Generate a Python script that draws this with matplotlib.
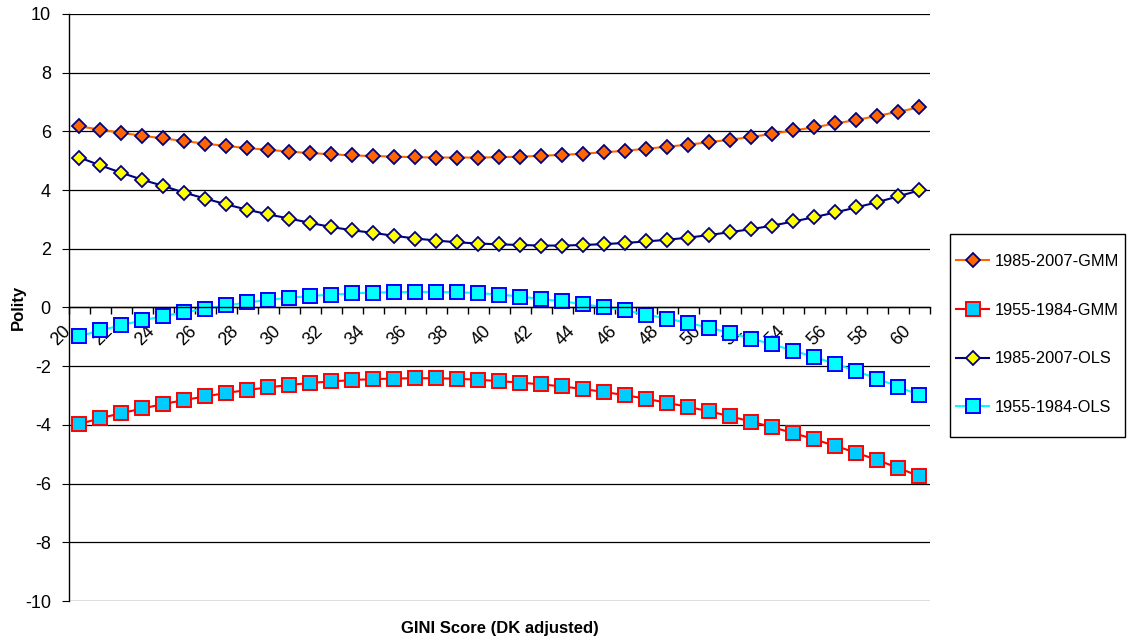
import numpy as np
import matplotlib
matplotlib.use("Agg")
import matplotlib.pyplot as plt
import matplotlib.transforms as mtransforms
from matplotlib.patches import Rectangle

plt.rcParams["font.family"] = ["Liberation Sans", "DejaVu Sans"]
plt.rcParams["axes.unicode_minus"] = False

# GINI categories and predicted polity scores
gini = list(range(20, 61))

gmm_1985 = [6.17, 6.06, 5.95, 5.85, 5.76, 5.67, 5.58, 5.50, 5.43, 5.37,
            5.31, 5.26, 5.22, 5.18, 5.16, 5.14, 5.12, 5.11, 5.11, 5.11,
            5.12, 5.14, 5.17, 5.20, 5.24, 5.29, 5.34, 5.41, 5.48, 5.55,
            5.63, 5.72, 5.81, 5.92, 6.03, 6.14, 6.27, 6.39, 6.53, 6.67, 6.82]
gmm_1955 = [-3.97, -3.77, -3.60, -3.44, -3.29, -3.15, -3.03, -2.91, -2.81, -2.72,
            -2.64, -2.57, -2.52, -2.47, -2.44, -2.42, -2.41, -2.41, -2.43, -2.46,
            -2.51, -2.56, -2.62, -2.69, -2.78, -2.88, -2.99, -3.11, -3.25, -3.39,
            -3.54, -3.71, -3.89, -4.08, -4.28, -4.49, -4.72, -4.95, -5.20, -5.47, -5.75]
ols_1985 = [5.11, 4.84, 4.59, 4.35, 4.14, 3.91, 3.71, 3.51, 3.33, 3.17,
            3.03, 2.88, 2.74, 2.63, 2.54, 2.44, 2.35, 2.28, 2.22, 2.18,
            2.15, 2.13, 2.11, 2.11, 2.13, 2.16, 2.20, 2.25, 2.31, 2.38,
            2.47, 2.57, 2.67, 2.79, 2.93, 3.08, 3.24, 3.41, 3.59, 3.79, 3.99]
ols_1955 = [-0.98, -0.78, -0.60, -0.44, -0.29, -0.16, -0.04, 0.07, 0.17, 0.26,
            0.33, 0.39, 0.44, 0.48, 0.51, 0.52, 0.53, 0.53, 0.52, 0.49,
            0.44, 0.37, 0.29, 0.21, 0.11, 0.01, -0.10, -0.24, -0.38, -0.53,
            -0.69, -0.87, -1.06, -1.26, -1.47, -1.69, -1.92, -2.17, -2.43, -2.70, -2.99]

fig = plt.figure(figsize=(11.3, 6.41), dpi=100)
ax = fig.add_axes([0.061, 0.0624, 0.762, 0.9158])

ax.plot(gini, gmm_1985, color="#FF6600", lw=1.5, marker="D", ms=7.2,
        mfc="#FF6600", mec="#000080", mew=1.3, label="1985-2007-GMM")
ax.plot(gini, gmm_1955, color="#FF0000", lw=1.5, marker="s", ms=9.5,
        mfc="#00CCFF", mec="#FF0000", mew=1.4, label="1955-1984-GMM")
ax.plot(gini, ols_1985, color="#000080", lw=1.5, marker="D", ms=7.2,
        mfc="#FFFF00", mec="#000080", mew=1.3, label="1985-2007-OLS")
ax.plot(gini, ols_1955, color="#00FFFF", lw=1.5, marker="s", ms=9.5,
        mfc="#00FFFF", mec="#0000FF", mew=1.4, label="1955-1984-OLS")

ax.set_xlim(19.5, 60.5)
ax.set_ylim(-10, 10)
ax.set_yticks(np.arange(-10, 11, 2))
ax.yaxis.grid(True, color="black", lw=0.9)
ax.set_axisbelow(True)

for side in ["top", "right"]:
    ax.spines[side].set_visible(False)
ax.spines["bottom"].set_position(("data", 0))
ax.spines["left"].set_linewidth(1.0)
ax.spines["bottom"].set_linewidth(1.0)

# tick marks between categories, labels on every other category
ax.set_xticks(np.arange(19.5, 61, 1), minor=True)
ax.set_xticks(gini[::2])
ax.set_xticklabels([str(g) for g in gini[::2]], rotation=45, ha="right", va="top")
ax.tick_params(axis="x", which="major", length=0, pad=11, labelsize=13)
ax.tick_params(axis="x", which="minor", length=5, direction="out", width=1)
ax.tick_params(axis="y", length=5, direction="out", pad=8, labelsize=13)
shift = mtransforms.ScaledTranslation(-5 / 100, 0, fig.dpi_scale_trans)
for lbl in ax.get_xticklabels():
    lbl.set_transform(lbl.get_transform() + shift)

fig.text(0.016, 0.52, "Polity", rotation=90, fontsize=12, fontweight="bold",
         ha="center", va="center")
fig.text(0.442, 0.02, "GINI Score (DK adjusted)", fontsize=12, fontweight="bold",
         ha="center", va="center")

leg = fig.legend(loc="center", bbox_to_anchor=(0.9185, 0.478), fontsize=11.8,
                 labelspacing=2.05, handlelength=2.0, handletextpad=0.35,
                 borderpad=0.3, frameon=False)
fig.add_artist(Rectangle((950 / 1130, 1 - 437 / 641), 175 / 1130, 203 / 641,
                         transform=fig.transFigure, fill=False,
                         edgecolor="black", lw=1.0))

fig.savefig("out.png", dpi=100)
